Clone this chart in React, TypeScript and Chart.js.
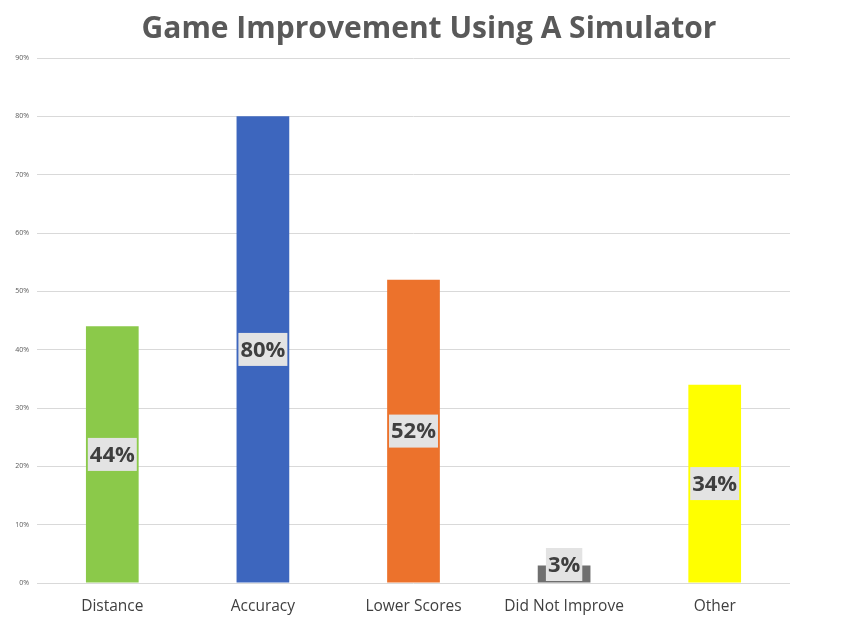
import React, { useEffect, useRef } from "react";
import { Chart, registerables } from "chart.js";

Chart.register(...registerables);

const categories = ["Distance", "Accuracy", "Lower Scores", "Did Not Improve", "Other"];
const values = [44, 80, 52, 3, 34];
const barColors = ["#8BC94A", "#3D66BE", "#EC722C", "#6F6F6F", "#FFFF00"];
const yTicks = [0, 10, 20, 30, 40, 50, 60, 70, 80, 90];
const titleText = "Game Improvement Using A Simulator";

const labelPlugin = {
  id: "barLabels",
  afterDatasetsDraw(chart: any) {
    const ctx = chart.ctx;
    const meta = chart.getDatasetMeta(0);
    ctx.save();
    ctx.font = "bold 22px 'Open Sans'";
    ctx.textAlign = "center";
    ctx.textBaseline = "middle";
    meta.data.forEach((bar: any, i: number) => {
      const text = values[i] + "%";
      const w = ctx.measureText(text).width + 4;
      const h = 33;
      const x = bar.x;
      let y = (bar.y + bar.base) / 2;
      if (values[i] < 5) y = bar.base - 18;
      ctx.fillStyle = "#E3E3E3";
      ctx.fillRect(x - w / 2, y - h / 2, w, h);
      ctx.fillStyle = "#3F3F3F";
      ctx.fillText(text, x, y + 1);
    });
    ctx.restore();
  },
};

const titlePlugin = {
  id: "customTitle",
  afterDraw(chart: any) {
    const ctx = chart.ctx;
    ctx.save();
    ctx.font = "bold 30px 'Open Sans'";
    ctx.fillStyle = "#595959";
    ctx.textAlign = "center";
    ctx.textBaseline = "alphabetic";
    ctx.fillText(titleText, chart.width / 2 - 4, 38);
    ctx.restore();
  },
};

export default function App() {
  const ref = useRef<HTMLCanvasElement | null>(null);
  useEffect(() => {
    if (!ref.current) return;
    const chart = new Chart(ref.current, {
      type: "bar",
      data: {
        labels: categories,
        datasets: [
          {
            data: values,
            backgroundColor: barColors,
            barPercentage: 0.35,
            categoryPercentage: 1,
          },
        ],
      },
      options: {
        animation: false,
        responsive: true,
        maintainAspectRatio: false,
        layout: { padding: { left: 0, right: 76, top: 58, bottom: 7 } },
        plugins: {
          legend: { display: false },
          tooltip: { enabled: false },
          title: { display: false },
        },
        scales: {
          x: {
            afterFit(scale: any) {
              scale.height = 34;
            },
            grid: { display: false, drawTicks: false },
            border: { display: false },
            ticks: {
              color: "#404040",
              font: { family: "'Open Sans'", size: 15.5 },
              padding: 14,
            },
          },
          y: {
            min: 0,
            max: 90,
            afterBuildTicks(scale: any) {
              scale.ticks = yTicks.map((v) => ({ value: v }));
            },
            afterFit(scale: any) {
              scale.width = 37;
            },
            grid: { color: "#D9D9D9", drawTicks: false },
            border: { display: false },
            ticks: {
              color: "#595959",
              font: { family: "'Open Sans'", size: 7 },
              padding: 8,
              callback: (v: any) => v + "%",
            },
          },
        },
      },
      plugins: [labelPlugin, titlePlugin],
    });
    return () => chart.destroy();
  }, []);
  return (
    <div style={{ position: "fixed", left: 0, top: 0, width: 866, height: 624, background: "#fff" }}>
      <canvas ref={ref} />
    </div>
  );
}
